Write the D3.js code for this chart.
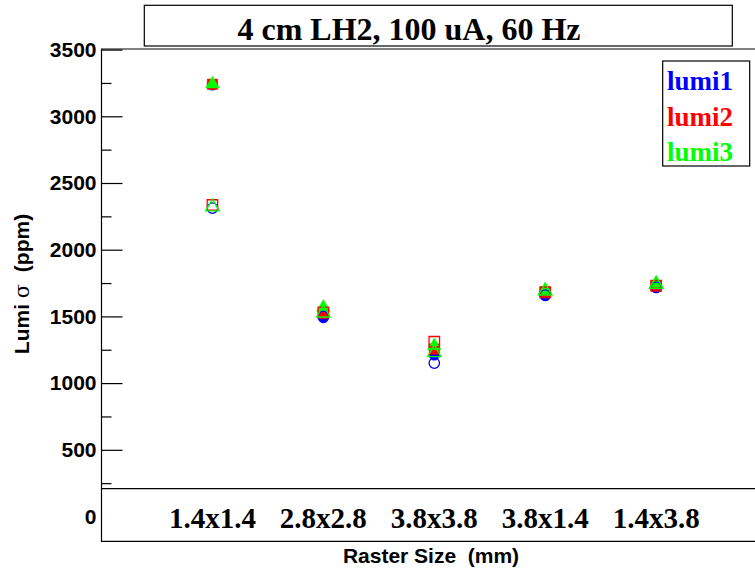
<!DOCTYPE html>
<html>
<head>
<meta charset="utf-8">
<script src="https://cdn.jsdelivr.net/npm/d3@7"></script>
<style>
  body { margin: 0; background: #fff; }
  svg { display: block; }
  text { white-space: pre; }
</style>
</head>
<body>
<div id="chart"></div>
<script>
// Raster sizes (categories on the x axis)
const rasters = ['1.4x1.4', '2.8x2.8', '3.8x3.8', '3.8x1.4', '1.4x3.8'];

// Filled markers
const lumi1 = [3235, 1490, 1210, 1655, 1715];
const lumi2 = [3240, 1522, 1255, 1685, 1728];
const lumi3 = [3242, 1568, 1280, 1698, 1748];
// Open markers
const lumi1Open = [2312, 1500, 1150, 1660, 1718];
const lumi2Open = [2335, 1530, 1310, 1680, 1730];
const lumi3Open = [2320, 1525, 1228, 1690, 1740];

const legendNames = ['lumi1', 'lumi2', 'lumi3'];
const colors = ['#0000ff', '#ff0000', '#00ff00'];

const yMajor = [0, 500, 1000, 1500, 2000, 2500, 3000, 3500];
const yMinor = [250, 750, 1250, 1750, 2250, 2750, 3250];

const W = 755, H = 573;
const frame = {left: 101.5, top: 49, right: 756, bottom: 541.3, split: 488.7};

const svg = d3.select('#chart').append('svg')
  .attr('width', W)
  .attr('height', H);

const x = d3.scaleLinear()
  .domain([0, 5.9])
  .range([frame.left, frame.right]);

const y = d3.scaleLinear()
  .domain([0, 3500])
  .range([516.5, 49.6]);

// frame
svg.append('path')
  .attr('d', `M${frame.right},${frame.top}H${frame.left}V${frame.bottom}H${frame.right}M${frame.left},${frame.split}H${frame.right}`)
  .attr('fill', 'none')
  .attr('stroke', '#000')
  .attr('stroke-width', 1.2);

// y axis, ticks inside the frame
const yAxis = svg.append('g')
  .attr('transform', `translate(${frame.left},0)`)
  .call(d3.axisLeft(y).tickValues(yMajor).tickSize(-21).tickPadding(5).tickFormat(d3.format('d')));
yAxis.select('.domain').remove();
yAxis.selectAll('.tick')
  .filter(d => y(d) > frame.split)
  .select('line').remove();
yAxis.selectAll('line').attr('stroke', '#000').attr('stroke-width', 1.2);
yAxis.selectAll('text')
  .attr('fill', '#000')
  .style('font-family', '"Liberation Sans", Arial, sans-serif')
  .style('font-weight', 'bold')
  .style('font-size', '21px');

const yMinorAxis = svg.append('g')
  .attr('transform', `translate(${frame.left},0)`)
  .call(d3.axisLeft(y).tickValues(yMinor).tickSize(-10).tickFormat(''));
yMinorAxis.select('.domain').remove();
yMinorAxis.selectAll('line').attr('stroke', '#000').attr('stroke-width', 1.2);

// x labels in the lower box
svg.append('g')
  .selectAll('text')
  .data(rasters)
  .join('text')
    .attr('x', (d, i) => x(i + 1))
    .attr('y', 528)
    .attr('text-anchor', 'middle')
    .style('font-family', '"Liberation Serif", "Times New Roman", serif')
    .style('font-weight', 'bold')
    .style('font-size', '29px')
    .text(d => d);

// axis titles
svg.append('text')
  .attr('x', 431)
  .attr('y', 563)
  .attr('text-anchor', 'middle')
  .style('font-family', '"Liberation Sans", Arial, sans-serif')
  .style('font-weight', 'bold')
  .style('font-size', '21px')
  .text('Raster Size  (mm)');

const yTitle = svg.append('text')
  .attr('transform', 'translate(29,284) rotate(-90)')
  .attr('text-anchor', 'middle')
  .style('font-family', '"Liberation Sans", Arial, sans-serif')
  .style('font-weight', 'bold')
  .style('font-size', '21px');
yTitle.append('tspan').text('Lumi ');
yTitle.append('tspan').style('font-weight', 'normal').style('font-family', '"DejaVu Serif", serif').text('σ');
yTitle.append('tspan').text('  (ppm)');

// markers
const shapes = [d3.symbolCircle, d3.symbolSquare, d3.symbolTriangle];
const sizes = [85, 110, 80];
const series = [
  {values: lumi1, k: 0, filled: true},
  {values: lumi2, k: 1, filled: true},
  {values: lumi3, k: 2, filled: true},
  {values: lumi1Open, k: 0, filled: false},
  {values: lumi2Open, k: 1, filled: false},
  {values: lumi3Open, k: 2, filled: false}
];

series.forEach(s => {
  svg.append('g')
    .selectAll('path')
    .data(s.values)
    .join('path')
      .attr('transform', (d, i) => `translate(${x(i + 1)},${y(d)})`)
      .attr('d', d3.symbol().type(shapes[s.k]).size(sizes[s.k]))
      .attr('fill', s.filled ? colors[s.k] : 'none')
      .attr('stroke', colors[s.k])
      .attr('stroke-width', s.filled ? 0.5 : 1.3);
});

// title box
svg.append('rect')
  .attr('x', 144.3)
  .attr('y', 5.3)
  .attr('width', 588)
  .attr('height', 40.7)
  .attr('fill', '#fff')
  .attr('stroke', '#000')
  .attr('stroke-width', 1.2);
svg.append('text')
  .attr('x', 409)
  .attr('y', 39.5)
  .attr('text-anchor', 'middle')
  .style('font-family', '"Liberation Serif", "Times New Roman", serif')
  .style('font-weight', 'bold')
  .style('font-size', '32px')
  .text('4 cm LH2, 100 uA, 60 Hz');

// legend
svg.append('rect')
  .attr('x', 662.7)
  .attr('y', 61)
  .attr('width', 87)
  .attr('height', 105)
  .attr('fill', '#fff')
  .attr('stroke', '#000')
  .attr('stroke-width', 1.2);
svg.append('g')
  .selectAll('text')
  .data(legendNames)
  .join('text')
    .attr('x', 667)
    .attr('y', (d, i) => 90 + i * 35.5)
    .attr('fill', (d, i) => colors[i])
    .style('font-family', '"Liberation Serif", "Times New Roman", serif')
    .style('font-weight', 'bold')
    .style('font-size', '27px')
    .text(d => d);
</script>
</body>
</html>
